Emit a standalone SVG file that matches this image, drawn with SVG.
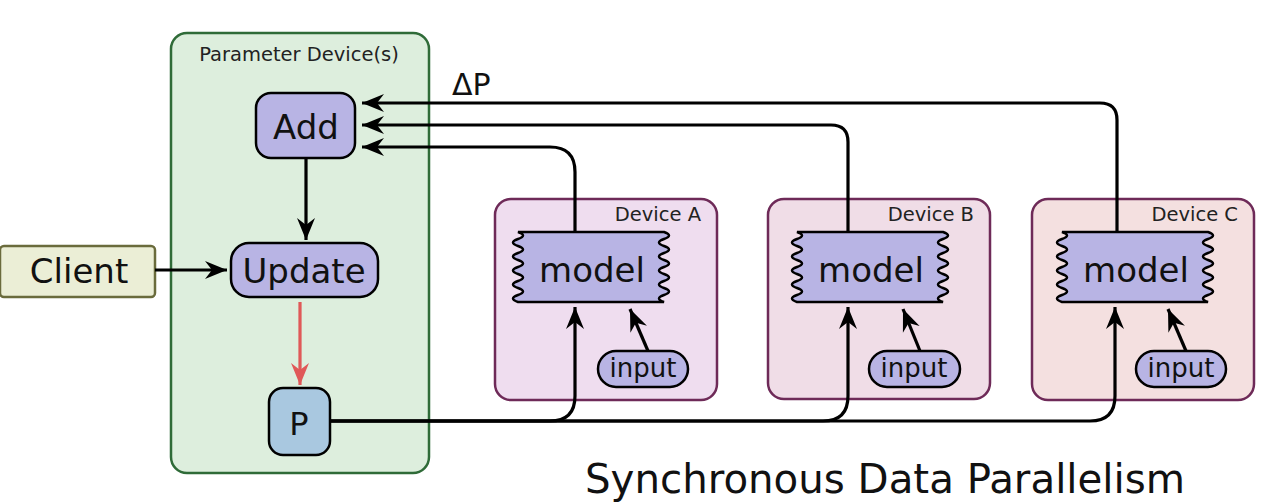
<svg xmlns="http://www.w3.org/2000/svg" width="1270" height="502" viewBox="0 0 1270 502">
<defs>
<marker id="ah" viewBox="-24 -11 26 22" markerWidth="26" markerHeight="22" refX="0" refY="0" orient="auto" markerUnits="userSpaceOnUse">
<path d="M0,0 L-22,-9 L-15,0 L-22,9 Z" fill="#000"/>
</marker>
<marker id="ahr" viewBox="-24 -11 26 22" markerWidth="26" markerHeight="22" refX="0" refY="0" orient="auto" markerUnits="userSpaceOnUse">
<path d="M0,0 L-22,-9 L-15,0 L-22,9 Z" fill="#e05858"/>
</marker>
<path id="wave" d="M0,0 L146,0 q10,3.5 0,7 t0,7 t0,7 t0,7 t0,7 t0,7 t0,7 t0,7 t0,7 t0,7 L0,70 q-10,-3.5 0,-7 t0,-7 t0,-7 t0,-7 t0,-7 t0,-7 t0,-7 t0,-7 t0,-7 t0,-7 Z"/>
</defs>
<style>
text{font-family:"DejaVu Sans",Verdana,sans-serif;fill:#111}
.node{fill:#b8b4e4;stroke:#000;stroke-width:2.5}
.dev{stroke:#6e2a58;stroke-width:2.5}
.conn{fill:none;stroke:#000;stroke-width:3.2}
.lbl{font-size:19.5px;fill:#222}
.big{font-size:34px}
.inp{font-size:26px}
</style>
<rect width="1270" height="502" fill="#fff"/>

<g id="param-device">
<rect x="171" y="33" width="258" height="440" rx="16" fill="#ddeedd" stroke="#2f6b38" stroke-width="2.5"/>
<text x="299" y="61" class="lbl" text-anchor="middle">Parameter Device(s)</text>
</g>

<g id="add">
<rect x="256" y="93" width="99" height="65" rx="15" class="node"/>
<text x="306" y="139" class="big" text-anchor="middle">Add</text>
</g>
<g id="update">
<rect x="231" y="243" width="147" height="54" rx="18" class="node"/>
<text x="304" y="283" class="big" text-anchor="middle">Update</text>
</g>
<g id="p">
<rect x="269" y="388" width="61" height="67" rx="14" fill="#a9c8e0" stroke="#000" stroke-width="2.5"/>
<text x="299" y="435" font-size="32" text-anchor="middle">P</text>
</g>
<g id="client">
<rect x="0" y="246" width="155" height="51" rx="4" fill="#ebeed6" stroke="#6a6b3c" stroke-width="2.5"/>
<text x="79" y="283" class="big" text-anchor="middle">Client</text>
</g>

<g id="device-a">
<rect x="495" y="199" width="222" height="201" rx="16" fill="#efddef" class="dev"/>
<text x="701" y="221" class="lbl" text-anchor="end">Device A</text>
<use href="#wave" x="518" y="232" class="node"/>
<text x="592" y="282" class="big" text-anchor="middle">model</text>
<rect x="598" y="351" width="90" height="36" rx="18" class="node"/>
<text x="643" y="377" class="inp" text-anchor="middle">input</text>
</g>
<g id="device-b">
<rect x="768" y="199" width="222" height="200" rx="16" fill="#f0dde7" class="dev"/>
<text x="974" y="221" class="lbl" text-anchor="end">Device B</text>
<use href="#wave" x="797" y="232" class="node"/>
<text x="871" y="282" class="big" text-anchor="middle">model</text>
<rect x="869" y="351" width="91" height="36" rx="18" class="node"/>
<text x="914" y="377" class="inp" text-anchor="middle">input</text>
</g>
<g id="device-c">
<rect x="1032" y="199" width="222" height="201" rx="16" fill="#f4e0e0" class="dev"/>
<text x="1238" y="221" class="lbl" text-anchor="end">Device C</text>
<use href="#wave" x="1062" y="232" class="node"/>
<text x="1136" y="282" class="big" text-anchor="middle">model</text>
<rect x="1136" y="351" width="90" height="36" rx="18" class="node"/>
<text x="1181" y="377" class="inp" text-anchor="middle">input</text>
</g>

<g id="connectors">
<path class="conn" d="M306,158 L306,240" marker-end="url(#ah)"/>
<path class="conn" d="M155,270 L227,270" marker-end="url(#ah)"/>
<path d="M300,302 L300,385" fill="none" stroke="#e05858" stroke-width="3.2" marker-end="url(#ahr)"/>
<path class="conn" d="M575,232 L575,172 Q575,147 550,147 L362,147" marker-end="url(#ah)"/>
<path class="conn" d="M848,232 L848,142 Q848,125 831,125 L362,125" marker-end="url(#ah)"/>
<path class="conn" d="M1117,232 L1117,120 Q1117,103 1100,103 L362,103" marker-end="url(#ah)"/>
<path class="conn" d="M330,421 L550,421 Q575,421 575,396 L575,307" marker-end="url(#ah)"/>
<path class="conn" d="M330,421 L823,421 Q848,421 848,396 L848,307" marker-end="url(#ah)"/>
<path class="conn" d="M330,421 L1090,421 Q1115,421 1115,396 L1115,307" marker-end="url(#ah)"/>
<path class="conn" d="M648,351 L630,309" marker-end="url(#ah)"/>
<path class="conn" d="M920,351 L903,309" marker-end="url(#ah)"/>
<path class="conn" d="M1186,351 L1168,309" marker-end="url(#ah)"/>
</g>

<text x="452" y="95" font-size="30">ΔP</text>
<text x="585" y="493" font-size="40" textLength="600" lengthAdjust="spacingAndGlyphs">Synchronous Data Parallelism</text>
</svg>
